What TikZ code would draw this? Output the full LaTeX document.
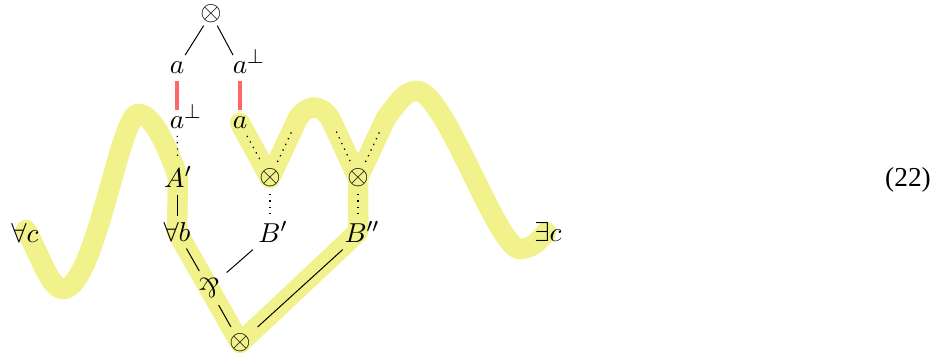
\documentclass[tikz,border=0pt]{standalone}
\usepackage{fontspec}
\newfontfamily\eqnfont{Liberation Serif}
\pgfdeclarelayer{bg}
\pgfsetlayers{bg,main}
\definecolor{hlyellow}{RGB}{242,242,140}
\definecolor{redlink}{RGB}{255,102,102}
\newcommand{\mypar}{\mathbin{\rotatebox[origin=c]{180}{$\&$}}}
\begin{document}
\begin{tikzpicture}[x=0.4pt,y=-0.4pt,
  every node/.style={font=\fontsize{10.95pt}{13pt}\selectfont, inner sep=2.6pt},
  ln/.style={line width=0.4pt},
  dotl/.style={dotted, line width=0.5pt},
  redl/.style={draw=redlink, line width=1.6pt},
  hl/.style={draw=hlyellow, line width=8.2pt, line cap=round, line join=round}]
\useasboundingbox (0,0) rectangle (947,362);
\node[inner sep=0.8pt] (tens0) at (211,14) {$\otimes$};
\node (a1) at (177,68) {$a$};
\node (a1p) at (240,68) {$a\smash{\rlap{$^\perp$}}$};
\node (a2p) at (177,123) {$a\smash{\rlap{$^\perp$}}$};
\node (a2) at (240,123) {$a$};
\node (Ap) at (178,177) {$A'$};
\node (t1) at (270,178) {$\otimes$};
\node (t2) at (358,178) {$\otimes$};
\node (fc) at (25,233) {$\forall c$};
\node (fb) at (177,232) {$\forall b$};
\node (Bp) at (273,232) {$B'$};
\node (Bpp) at (362,232) {$B''$};
\node (ec) at (548,232) {$\exists c$};
\node (par) at (209,288) {$\mypar$};
\node (t3) at (240,343) {$\otimes$};
\node (eq) at (908,180) {\eqnfont (22)};
\coordinate (h1) at (298,118);
\coordinate (h2) at (330,118);
\coordinate (h3) at (386,118);
\coordinate (bb) at (358,232);
% connectors
\draw[ln] (tens0) -- (a1);
\draw[ln] (tens0) -- (a1p);
\draw[redl] (a1) -- (a2p);
\draw[redl] (a1p) -- (a2);
\draw[dotl] (a2p) -- (Ap);
\draw[ln] (Ap.south -| fb) -- (fb);
\draw[ln] (fb) -- (par);
\draw[ln] (par) -- (t3);
\draw[ln] (t3) -- (Bpp);
\draw[ln] (Bp) -- (par);
\draw[dotl] (a2) -- (t1);
\draw[dotl, shorten >=6pt] (t1) -- (h1);
\draw[dotl, shorten <=6pt] (h2) -- (t2);
\draw[dotl, shorten >=6pt] (t2) -- (h3);
\draw[dotl] (t1) -- (t1 |- Bp.north);
\draw[dotl] (t2) -- (t2 |- Bpp.north);
\begin{pgfonlayer}{bg}
\draw[hl] (26,230) .. controls (40,255) and (50,289) .. (63,289)
  .. controls (95,289) and (120,114) .. (138,114)
  .. controls (155,114) and (170,155) .. (Ap.center)
  -- (fb.center) -- (par.center) -- (t3.center) -- (bb) -- (t2.center) -- (h3)
  .. controls (400,100) and (405,91) .. (417,91)
  .. controls (445,91) and (497,249) .. (520,249)
  .. controls (532,249) and (540,240) .. (546,232);
\draw[hl] (a2.center) -- (t1.center) -- (h1)
  .. controls (308,104) and (320,104) .. (h2) -- (t2.center);
\end{pgfonlayer}
\end{tikzpicture}
\end{document}
